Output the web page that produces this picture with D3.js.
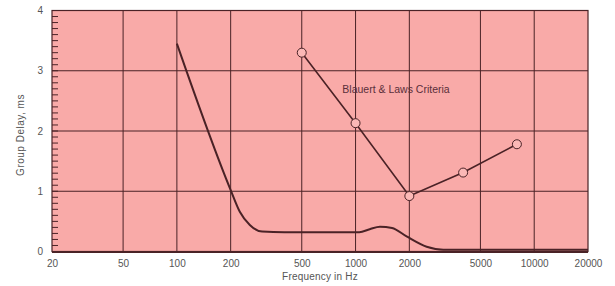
<!DOCTYPE html>
<html>
<head>
<meta charset="utf-8">
<script src="https://cdn.jsdelivr.net/npm/d3@7"></script>
<style>
  body { margin: 0; background: #fff; }
  svg { display: block; }
</style>
</head>
<body>
<div id="chart"></div>
<script>
// measured group delay curve
const curveFreq = [100, 200, 225, 256, 300, 400, 1050, 1200, 1370, 1600, 1930, 2500, 3100, 20000];
const curveDelay = [3.45, 1.02, 0.66, 0.44, 0.33, 0.32, 0.32, 0.37, 0.41, 0.39, 0.25, 0.08, 0.03, 0.03];

// Blauert & Laws criteria points
const critFreq = [500, 1000, 2000, 4000, 8000];
const critDelay = [3.30, 2.13, 0.92, 1.31, 1.78];

const xTicks = [20, 50, 100, 200, 500, 1000, 2000, 5000, 10000, 20000];
const yTicks = [0, 1, 2, 3, 4];

var margin = { top: 10.5, right: 27, bottom: 34.5, left: 52 },
  W = 615, H = 286,
  width = W - margin.left - margin.right,
  height = H - margin.top - margin.bottom;

var svg = d3.select("#chart").append("svg")
  .attr("width", W).attr("height", H);

var g = svg.append("g")
  .attr("transform", "translate(" + margin.left + "," + margin.top + ")");

var x = d3.scaleLog().domain([20, 20000]).range([0, width]);
var y = d3.scaleLinear().domain([0, 4]).range([height, 0]);

const ink = "#4a2226";
const textCol = "#555";
const font = "'Liberation Sans', Arial, sans-serif";

// background
g.append("rect")
  .attr("width", width).attr("height", height)
  .attr("fill", "#f9aaa8");

// grid
g.selectAll(".vgrid")
  .data(xTicks.slice(1, -1))
  .enter().append("line")
  .attr("x1", d => x(d)).attr("x2", d => x(d))
  .attr("y1", 0).attr("y2", height)
  .attr("stroke", ink).attr("stroke-width", 1);

g.selectAll(".hgrid")
  .data(yTicks.slice(1, -1))
  .enter().append("line")
  .attr("x1", 0).attr("x2", width)
  .attr("y1", d => y(d)).attr("y2", d => y(d))
  .attr("stroke", ink).attr("stroke-width", 1);

// minor ticks on the left edge every 0.1
g.selectAll(".minor")
  .data(d3.range(0, 40).map(i => i / 10))
  .enter().append("line")
  .attr("x1", 0).attr("x2", 6)
  .attr("y1", d => y(d)).attr("y2", d => y(d))
  .attr("stroke", ink).attr("stroke-width", 1);

// frame
g.append("rect")
  .attr("width", width).attr("height", height)
  .attr("fill", "none").attr("stroke", ink).attr("stroke-width", 1.2);
g.append("line")
  .attr("x1", 0).attr("x2", width)
  .attr("y1", height + 0.5).attr("y2", height + 0.5)
  .attr("stroke", ink).attr("stroke-width", 2);

// axes (labels only)
var xAxis = g.append("g")
  .attr("transform", "translate(0," + height + ")")
  .call(d3.axisBottom(x).tickValues(xTicks).tickFormat(d3.format("d")).tickSize(0).tickPadding(8));
var yAxis = g.append("g")
  .call(d3.axisLeft(y).tickValues(yTicks).tickFormat(d3.format("d")).tickSize(0).tickPadding(9));
[xAxis, yAxis].forEach(a => {
  a.select(".domain").remove();
  a.selectAll("text")
    .attr("fill", textCol)
    .style("font-family", font)
    .style("font-size", "10px");
});

// measured curve
var line = d3.line()
  .x((d, i) => x(curveFreq[i]))
  .y(d => y(d))
  .curve(d3.curveMonotoneX);
g.append("path")
  .datum(curveDelay)
  .attr("d", line)
  .attr("fill", "none")
  .attr("stroke", ink)
  .attr("stroke-width", 2);

// criteria line
var critLine = d3.line()
  .x((d, i) => x(critFreq[i]))
  .y(d => y(d));
g.append("path")
  .datum(critDelay)
  .attr("d", critLine)
  .attr("fill", "none")
  .attr("stroke", ink)
  .attr("stroke-width", 1.6);

g.selectAll(".pt")
  .data(critDelay)
  .enter().append("circle")
  .attr("cx", (d, i) => x(critFreq[i]))
  .attr("cy", d => y(d))
  .attr("r", 4.5)
  .attr("fill", "#fbb8b6")
  .attr("stroke", ink)
  .attr("stroke-width", 1);

g.append("text")
  .attr("x", 396 - margin.left)
  .attr("y", 93 - margin.top)
  .attr("text-anchor", "middle")
  .attr("fill", "#5a2f3a")
  .style("font-family", font)
  .style("font-size", "10.5px")
  .text("Blauert & Laws Criteria");

// axis titles
svg.append("text")
  .attr("x", 320).attr("y", 280)
  .attr("text-anchor", "middle")
  .attr("fill", textCol)
  .style("font-family", font)
  .style("font-size", "10px")
  .style("letter-spacing", "0.2px")
  .text("Frequency in Hz");

svg.append("text")
  .attr("transform", "translate(24,135) rotate(-90)")
  .attr("text-anchor", "middle")
  .attr("fill", textCol)
  .style("font-family", font)
  .style("font-size", "10px")
  .style("letter-spacing", "0.5px")
  .text("Group Delay, ms");
</script>
</body>
</html>
